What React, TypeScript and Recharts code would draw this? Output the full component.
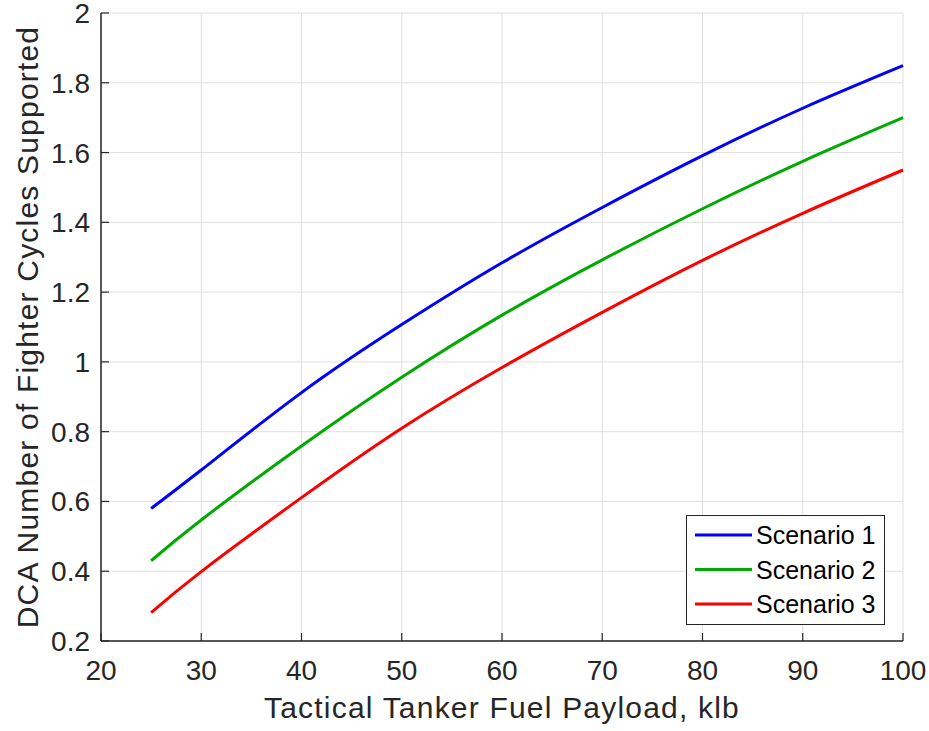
import React from "react";
import {
  LineChart,
  Line,
  XAxis,
  YAxis,
  CartesianGrid,
  Legend,
  Label,
} from "recharts";

// Tanker fuel payload (klb) sampled along the x axis
const payloadKlb = [25, 30, 40, 50, 60, 70, 80, 90, 100];

// DCA fighter cycles supported for each scenario
const scenario1 = [0.58, 0.69, 0.912, 1.107, 1.284, 1.4425, 1.591, 1.727, 1.849];
const scenario2 = [0.43, 0.547, 0.759, 0.956, 1.134, 1.2925, 1.439, 1.575, 1.7];
const scenario3 = [0.281, 0.399, 0.611, 0.81, 0.984, 1.142, 1.291, 1.426, 1.55];

const xTicks = [20, 30, 40, 50, 60, 70, 80, 90, 100];
const yTicks = [0.2, 0.4, 0.6, 0.8, 1, 1.2, 1.4, 1.6, 1.8, 2];

const seriesNames = ["Scenario 1", "Scenario 2", "Scenario 3"];
const seriesColors = ["#0000ff", "#00aa00", "#ff0000"];

const data = payloadKlb.map((p, i) => ({
  payload: p,
  s1: scenario1[i],
  s2: scenario2[i],
  s3: scenario3[i],
}));

const FONT = '"Liberation Sans", Arial, Helvetica, sans-serif';
const AXIS_COLOR = "#262626";
const TICK_LEN = 8;
const X_MARGIN = 19;
const Y_MARGIN = 11;

// Bottom axis: inward tick mark plus label
const BottomTick = (props: any) => {
  const { x, y, payload } = props;
  const axisY = y - X_MARGIN;
  return (
    <g>
      <line x1={x} x2={x} y1={axisY} y2={axisY - TICK_LEN} stroke={AXIS_COLOR} strokeWidth={1.2} />
      <text x={x} y={axisY + 39} textAnchor="middle" fontSize={28} fontFamily={FONT} fill={AXIS_COLOR}>
        {payload.value}
      </text>
    </g>
  );
};

// Left axis: inward tick mark plus label
const LeftTick = (props: any) => {
  const { x, y, payload } = props;
  const axisX = x + Y_MARGIN;
  return (
    <g>
      <line x1={axisX} x2={axisX + TICK_LEN} y1={y} y2={y} stroke={AXIS_COLOR} strokeWidth={1.2} />
      <text x={axisX - 11} y={y + 10} textAnchor="end" fontSize={28} fontFamily={FONT} fill={AXIS_COLOR}>
        {payload.value}
      </text>
    </g>
  );
};

// Top and right box edges: tick marks only
const TopTick = (props: any) => {
  const { x, y } = props;
  return <line x1={x} x2={x} y1={y} y2={y + TICK_LEN} stroke={AXIS_COLOR} strokeWidth={1.2} />;
};

const RightTick = (props: any) => {
  const { x, y } = props;
  return <line x1={x} x2={x - TICK_LEN} y1={y} y2={y} stroke={AXIS_COLOR} strokeWidth={1.2} />;
};

const XTitle = (props: any) => {
  const vb = props.viewBox || { x: 101, y: 641, width: 802, height: 90 };
  return (
    <text
      x={vb.x + vb.width / 2}
      y={vb.y + 77}
      textAnchor="middle"
      fontSize={30}
      fontFamily={FONT}
      fill={AXIS_COLOR}
      style={{ letterSpacing: "1.2px" }}
    >
      Tactical Tanker Fuel Payload, klb
    </text>
  );
};

const YTitle = (props: any) => {
  const vb = props.viewBox || { x: 0, y: 13, width: 101, height: 628 };
  const cx = vb.x + 38;
  const cy = vb.y + vb.height / 2;
  return (
    <text
      x={cx}
      y={cy}
      transform={`rotate(-90, ${cx}, ${cy})`}
      textAnchor="middle"
      fontSize={30}
      fontFamily={FONT}
      fill={AXIS_COLOR}
      style={{ letterSpacing: "1.2px" }}
    >
      DCA Number of Fighter Cycles Supported
    </text>
  );
};

const LegendBox = (props: any) => {
  const items = (props.payload || []) as any[];
  const rowY = [20, 54.5, 89];
  return (
    <svg width={199} height={110} style={{ display: "block" }}>
      <rect x={0.5} y={0.5} width={198} height={109} fill="#ffffff" stroke={AXIS_COLOR} strokeWidth={1} />
      {items.map((item, i) => (
        <g key={item.value}>
          <line x1={9} x2={66} y1={rowY[i]} y2={rowY[i]} stroke={item.color} strokeWidth={3} />
          <text x={70} y={rowY[i] + 9} fontSize={25} fontFamily={FONT} fill="#000000">
            {item.value}
          </text>
        </g>
      ))}
    </svg>
  );
};

export default function App() {
  return (
    <div style={{ position: "absolute", left: 0, top: 0, background: "#ffffff" }}>
      <LineChart
        width={929}
        height={731}
        data={data}
        margin={{ top: 13, right: 26, bottom: 0, left: 0 }}
      >
        <CartesianGrid stroke="#e0e0e0" strokeWidth={1} />
        <XAxis
          dataKey="payload"
          type="number"
          domain={[20, 100]}
          ticks={xTicks}
          height={90}
          tickSize={0}
          tickMargin={X_MARGIN}
          tick={BottomTick}
          tickLine={false}
          stroke={AXIS_COLOR}
          strokeWidth={1.5}
          interval={0}
        >
          <Label content={XTitle} />
        </XAxis>
        <XAxis
          xAxisId="top"
          orientation="top"
          dataKey="payload"
          type="number"
          domain={[20, 100]}
          ticks={xTicks}
          height={0}
          tickSize={0}
          tickMargin={0}
          tick={TopTick}
          tickLine={false}
          stroke={AXIS_COLOR}
          strokeWidth={1.5}
          interval={0}
        />
        <YAxis
          type="number"
          domain={[0.2, 2]}
          ticks={yTicks}
          width={101}
          tickSize={0}
          tickMargin={Y_MARGIN}
          tick={LeftTick}
          tickLine={false}
          stroke={AXIS_COLOR}
          strokeWidth={1.5}
          interval={0}
        >
          <Label content={YTitle} />
        </YAxis>
        <YAxis
          yAxisId="right"
          orientation="right"
          type="number"
          domain={[0.2, 2]}
          ticks={yTicks}
          width={0}
          tickSize={0}
          tickMargin={0}
          tick={RightTick}
          tickLine={false}
          stroke={AXIS_COLOR}
          strokeWidth={1.5}
          interval={0}
        />
        <Legend
          verticalAlign="middle"
          align="center"
          content={LegendBox}
          wrapperStyle={{ left: 686, top: 515, width: 199, height: 110 }}
        />
        <Line
          type="natural"
          dataKey="s1"
          name={seriesNames[0]}
          stroke={seriesColors[0]}
          strokeWidth={3}
          dot={false}
          activeDot={false}
          isAnimationActive={false}
        />
        <Line
          type="natural"
          dataKey="s2"
          name={seriesNames[1]}
          stroke={seriesColors[1]}
          strokeWidth={3}
          dot={false}
          activeDot={false}
          isAnimationActive={false}
        />
        <Line
          type="natural"
          dataKey="s3"
          name={seriesNames[2]}
          stroke={seriesColors[2]}
          strokeWidth={3}
          dot={false}
          activeDot={false}
          isAnimationActive={false}
        />
      </LineChart>
    </div>
  );
}
